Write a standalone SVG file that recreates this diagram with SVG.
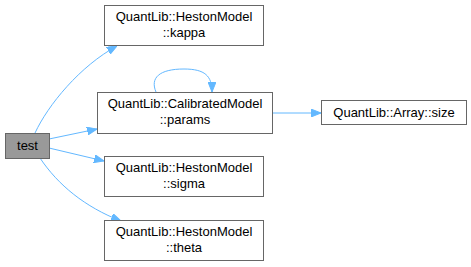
<svg xmlns="http://www.w3.org/2000/svg" width="471" height="267" viewBox="0 0 471 267">
  <style>
    .node rect { fill: #ffffff; stroke: #666666; stroke-width: 1; }
    .node.self rect { fill: #999999; }
    text { font-family: "Liberation Sans", Arial, sans-serif; font-size: 13px; fill: #000000; text-anchor: middle; }
    .edge { fill: none; stroke: #63b8ff; stroke-width: 1; }
  </style>
  <defs>
    <marker id="arrow" viewBox="0 0 10 8" refX="10" refY="4" markerWidth="10" markerHeight="8" markerUnits="userSpaceOnUse" orient="auto">
      <path d="M0,0 L10,4 L0,8 Z" fill="#63b8ff" stroke="#63b8ff" stroke-width="1"/>
    </marker>
  </defs>

  <g id="connectors">
    <path class="edge" marker-end="url(#arrow)" d="M35,133 C48,105 80,66 117,46"/>
    <path class="edge" marker-end="url(#arrow)" d="M49,139 L97,129"/>
    <path class="edge" marker-end="url(#arrow)" d="M49,148 L104,161"/>
    <path class="edge" marker-end="url(#arrow)" d="M40,158 C58,185 85,207 121,221"/>
    <path class="edge" marker-end="url(#arrow)" d="M156,92 C150,78 159,69 184,69 C205,69 212,76 212,92"/>
    <path class="edge" marker-end="url(#arrow)" d="M272,113 L321,113"/>
  </g>

  <g id="node-test" class="node self">
    <rect x="5.5" y="133.5" width="44" height="25"/>
    <text x="27.5" y="150">test</text>
  </g>
  <g id="node-kappa" class="node">
    <rect x="104.5" y="5.5" width="159" height="40"/>
    <text x="184" y="21">QuantLib::HestonModel</text>
    <text x="184" y="37">::kappa</text>
  </g>
  <g id="node-params" class="node">
    <rect x="97.5" y="92.5" width="175" height="41"/>
    <text x="185" y="108">QuantLib::CalibratedModel</text>
    <text x="185" y="124">::params</text>
  </g>
  <g id="node-sigma" class="node">
    <rect x="104.5" y="156.5" width="159" height="40"/>
    <text x="184" y="172">QuantLib::HestonModel</text>
    <text x="184" y="188">::sigma</text>
  </g>
  <g id="node-theta" class="node">
    <rect x="104.5" y="220.5" width="159" height="40"/>
    <text x="184" y="236">QuantLib::HestonModel</text>
    <text x="184" y="252">::theta</text>
  </g>
  <g id="node-size" class="node">
    <rect x="321.5" y="100.5" width="145" height="24"/>
    <text x="394" y="117">QuantLib::Array::size</text>
  </g>
</svg>
